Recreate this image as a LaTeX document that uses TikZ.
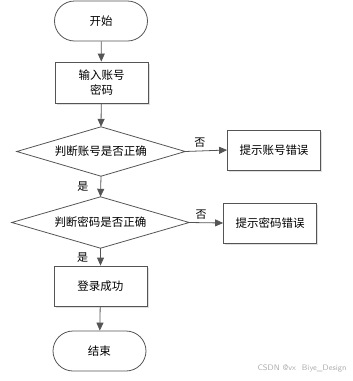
\documentclass[tikz,border=0pt]{standalone}
\usepackage{fontspec}
\setmainfont{Noto Sans CJK SC}
\usetikzlibrary{shapes.geometric,shapes.misc,arrows.meta,shadows}
\definecolor{edge}{HTML}{555555}
\tikzset{
  base/.style={draw=edge, line width=0.8pt, fill=white, font=\fontsize{11.5}{15}\selectfont, align=center, inner sep=0pt},
  term/.style={base, rounded rectangle, minimum width=93pt, minimum height=40pt},
  procbox/.style={base, rectangle, minimum width=93pt, minimum height=40pt, drop shadow={shadow xshift=1.5pt, shadow yshift=-1.5pt, opacity=0.25}},
  dshape/.style={diamond, inner sep=0pt, draw=none, fill=none},
  dline/.style={draw=edge, line width=0.8pt, fill=white},
  dtext/.style={font=\fontsize{11.5}{15}\selectfont},
  flow/.style={draw=edge, line width=0.8pt, -{Triangle[length=8pt,width=7pt]}},
  lab/.style={font=\fontsize{11}{13}\selectfont, inner sep=0pt}
}
\begin{document}
\begin{tikzpicture}[x=1pt,y=-1pt]
\useasboundingbox (0,0) rectangle (353,381);
\node[term] (start) at (101,21) {开始};
\node[procbox, minimum height=41pt] (input) at (101.5,82.5) {输入账号\\密码};
\node[dshape, minimum width=168pt, minimum height=49pt] (d1) at (101,151.5) {};
\draw[dline] (d1.north) -- (d1.east) -- (d1.south) -- (d1.west) -- cycle;
\node[dtext] (t1) at (d1) {判断账号是否正确};
\node[procbox] (e1) at (274,150) {提示账号错误};
\node[dshape, minimum width=177pt, minimum height=51pt] (d2) at (100.5,222.5) {};
\draw[dline] (d2.north) -- (d2.east) -- (d2.south) -- (d2.west) -- cycle;
\node[dtext] (t2) at (d2) {判断密码是否正确};
\node[procbox] (e2) at (270,223) {提示密码错误};
\node[procbox] (ok) at (100.5,286) {登录成功};
\node[term] (end) at (99.5,351) {结束};
\draw[flow] (start) -- (input);
\draw[flow] (input) -- (d1.north);
\draw[flow] (d1.east) -- (e1.west) node[lab, pos=0.35, above=3pt] (n1) {否};
\draw[flow] (d1.south) -- (d2.north) node[lab, pos=0.5, left=12pt] (y1) {是};
\draw[flow] (d2.east) -- (e2.west) node[lab, pos=0.35, above=3pt] (n2) {否};
\draw[flow] (d2.south) -- (ok.north) node[lab, pos=0.55, left=12pt] (y2) {是};
\draw[flow] (ok) -- (end);
\node[font=\sffamily\fontsize{8}{9}\selectfont, text=gray!65, anchor=east] (wm) at (350,368) {CSDN @vx\ \ Biye\_Design};
\end{tikzpicture}
\end{document}
